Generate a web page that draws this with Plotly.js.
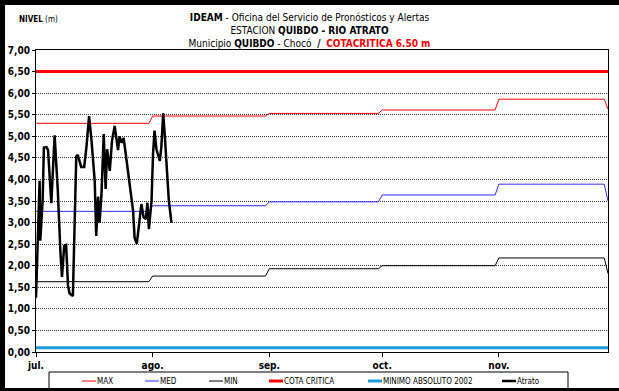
<!DOCTYPE html>
<html>
<head>
<meta charset="utf-8">
<script src="https://cdn.plot.ly/plotly-3.0.1.min.js"></script>
<style>
  html, body { margin: 0; padding: 0; background: #fff; }
  #wrap { position: relative; width: 619px; height: 391px; overflow: hidden; }
  #chart { position: absolute; left: 0; top: 0; width: 619px; height: 391px; }
  #frame { position: absolute; left: 0; top: 0; width: 619px; height: 391px; box-sizing: border-box;
           border-top: 5px solid #000; border-left: 5px solid #000; border-bottom: 3px solid #000; pointer-events: none; }
</style>
</head>
<body>
<div id="wrap"><div id="chart"></div><div id="frame"></div></div>
<script>
// ---- data ----
const inicio = '2008-07-01';
const meses = ['2008-07-01', '2008-08-01', '2008-09-01', '2008-10-01', '2008-11-01'];
const finMes = ['2008-07-31', '2008-08-31', '2008-09-30', '2008-10-31', '2008-11-29'];
const fechaFinal = '2008-11-30';
const mesesEtiquetas = ['jul.', 'ago.', 'sep.', 'oct.', 'nov.'];

const maxVals = [5.30, 5.47, 5.53, 5.61, 5.86];
const medVals = [3.26, 3.39, 3.48, 3.64, 3.89];
const minVals = [1.63, 1.76, 1.93, 2.00, 2.18];
const maxFinal = 5.63;
const medFinal = 3.50;
const minFinal = 1.82;

const cotaCritica = 6.50;
const minimoAbsoluto2002 = 0.10;

// Atrato: days since 1 July, level in m
const atratoDia = [0, 0.96, 1.14, 1.76, 2.1, 2.8, 3.2, 4.07, 4.95, 5.8, 6.5, 6.9, 7.5, 8.0, 8.5, 8.9, 9.8,
  10.7, 11.1, 12.0, 12.8, 13.4, 14.1, 14.7, 15.6, 16.0, 16.5, 16.9, 17.4, 18.0, 18.5, 18.9, 19.6,
  20.2, 20.9, 21.4, 21.8, 22.2, 22.8, 23.3, 24.0, 24.9, 25.8, 26.2, 26.8, 28.0, 28.6, 29.2, 29.6,
  30.0, 30.7, 31.1, 31.5, 32.0, 32.9, 33.3, 33.8, 34.2, 34.7, 35.3, 36.0];
const atratoNivel = [1.26, 3.97, 2.58, 3.5, 4.74, 4.75, 4.68, 3.45, 5.02, 3.73, 2.3, 1.74, 2.46, 2.48, 1.55, 1.36, 1.30,
  4.53, 4.57, 4.29, 4.29, 4.75, 5.47, 4.95, 3.97, 2.69, 3.6, 3.0, 3.66, 5.05, 3.78, 4.7, 4.2,
  4.9, 5.24, 4.9, 4.68, 5.0, 4.85, 4.96, 4.5, 3.97, 3.27, 2.65, 2.51, 3.43, 3.12, 3.08, 3.46,
  2.85, 3.5, 4.59, 5.13, 4.7, 4.43, 4.74, 5.53, 5.05, 4.28, 3.5, 3.0];

// ---- build series ----
function escalon(vals, fin) {
  const x = [], y = [];
  vals.forEach((v, i) => { x.push(meses[i], finMes[i]); y.push(v, v); });
  x.push(fechaFinal); y.push(fin);
  return { x, y };
}
function diaAFecha(d) {
  const t = Date.UTC(2008, 6, 1) + d * 86400000;
  return new Date(t).toISOString().slice(0, 16).replace('T', ' ');
}

const sMax = escalon(maxVals, maxFinal);
const sMed = escalon(medVals, medFinal);
const sMin = escalon(minVals, minFinal);

const FONT = '"Liberation Sans Narrow", "Arial Narrow", "DejaVu Sans Condensed", sans-serif';

const traces = [
  { name: 'MAX', x: sMax.x, y: sMax.y, mode: 'lines', line: { color: '#ff0000', width: 1 } },
  { name: 'MED', x: sMed.x, y: sMed.y, mode: 'lines', line: { color: '#2a2aff', width: 1 } },
  { name: 'MIN', x: sMin.x, y: sMin.y, mode: 'lines', line: { color: '#000000', width: 1 } },
  { name: 'COTA CRITICA', x: [inicio, fechaFinal], y: [cotaCritica, cotaCritica], mode: 'lines', line: { color: '#ff0000', width: 3 } },
  { name: 'MINIMO ABSOLUTO 2002', x: [inicio, fechaFinal], y: [minimoAbsoluto2002, minimoAbsoluto2002], mode: 'lines', line: { color: '#1a9cd8', width: 3 } },
  { name: 'Atrato', x: atratoDia.map(diaAFecha), y: atratoNivel, mode: 'lines', line: { color: '#000000', width: 2.5 } }
];
traces.forEach(t => { t.showlegend = false; });

// ---- compact legend box (Excel style), built from the traces ----
const M = { l: 36, r: 11, t: 50, b: 39 };
const PW = 619 - M.l - M.r, PH = 391 - M.t - M.b;
const px2x = p => (p - M.l) / PW;
const py2y = p => (391 - M.b - p) / PH;
const leyendaX = [82, 145, 209, 269, 368, 502];   // left end of each legend sample (px)
const leyY = 381;
const shapes = [
  { type: 'rect', xref: 'paper', yref: 'paper', x0: px2x(49), x1: px2x(568), y0: py2y(372), y1: py2y(389),
    line: { color: '#000', width: 1 }, fillcolor: '#fff', layer: 'above' }
];
const annotations = [
  { text: '<b>NIVEL</b> (m)', xref: 'paper', yref: 'paper', x: px2x(17), y: py2y(20), xanchor: 'left', yanchor: 'middle',
    showarrow: false, font: { family: FONT, size: 8, color: '#000' } }
];
traces.forEach((t, i) => {
  shapes.push({ type: 'line', xref: 'paper', yref: 'paper', x0: px2x(leyendaX[i]), x1: px2x(leyendaX[i] + 14),
    y0: py2y(leyY), y1: py2y(leyY), line: { color: t.line.color, width: t.line.width }, layer: 'above' });
  annotations.push({ text: t.name, xref: 'paper', yref: 'paper', x: px2x(leyendaX[i] + 14), y: py2y(leyY),
    xanchor: 'left', yanchor: 'middle', showarrow: false, xshift: -1,
    font: { family: FONT, size: 8, color: '#000' } });
});

const layout = {
  width: 619, height: 391,
  margin: { l: M.l, r: M.r, t: M.t, b: M.b, autoexpand: false },
  paper_bgcolor: '#ffffff', plot_bgcolor: '#ffffff',
  separators: ',.',
  font: { family: FONT, color: '#000', size: 10 },
  showlegend: false,
  title: {
    text: '<b>IDEAM</b> - Oficina del Servicio de Pronósticos y Alertas<br>ESTACION <b>QUIBDO - RIO ATRATO</b><br>Municipio <b>QUIBDO</b> - Chocó  <b>/</b>  <span style="color:#ff0000"><b>COTACRITICA 6.50 m</b></span>',
    font: { family: FONT, size: 10, color: '#000' },
    x: 0.5, xanchor: 'center', xref: 'container',
    y: 0.947, yanchor: 'middle', yref: 'container',
    automargin: false
  },
  xaxis: {
    type: 'date', range: [inicio, fechaFinal],
    tickvals: meses, ticktext: mesesEtiquetas,
    ticks: 'outside', ticklen: 4, tickcolor: '#000',
    tickfont: { family: FONT, size: 10, color: '#000', weight: 'bold' },
    showgrid: false, zeroline: false,
    showline: true, linecolor: '#000', linewidth: 1, mirror: true
  },
  yaxis: {
    range: [0, 7], dtick: 0.5, tick0: 0, tickformat: '.2f',
    ticks: 'outside', ticklen: 3, tickcolor: '#000',
    tickfont: { family: FONT, size: 10, color: '#000', weight: 'bold' },
    showgrid: true, gridcolor: '#333', gridwidth: 1, griddash: '1px,1px',
    zeroline: false,
    showline: true, linecolor: '#000', linewidth: 1, mirror: true
  },
  shapes: shapes,
  annotations: annotations
};

Plotly.newPlot('chart', traces, layout, { displayModeBar: false, staticPlot: true });
</script>
</body>
</html>
